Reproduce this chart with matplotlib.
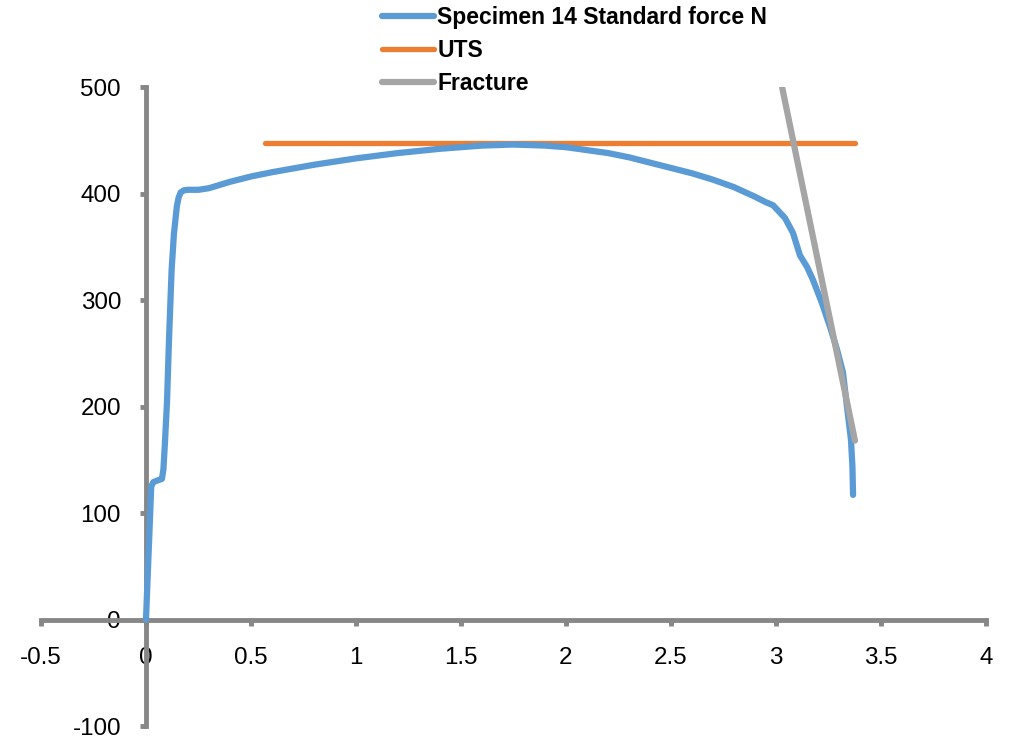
from matplotlib import pyplot as plt
import numpy as np

# blue curve: elongation vs force
strain = [0.0, 0.025, 0.035, 0.06, 0.076, 0.083, 0.09, 0.10, 0.11, 0.122,
          0.133, 0.14, 0.147, 0.155, 0.165, 0.18, 0.2, 0.25, 0.3, 0.4,
          0.5, 0.6, 0.8, 1.0, 1.2, 1.4, 1.6, 1.75, 1.9, 2.0,
          2.2, 2.3, 2.4, 2.5, 2.6, 2.7, 2.8, 2.9, 2.95, 2.986,
          3.043, 3.081, 3.114, 3.148, 3.176, 3.219, 3.257, 3.29, 3.319, 3.338,
          3.357, 3.364, 3.367]
force = [0, 125, 129, 131, 132, 141, 165, 204, 265, 328,
         362, 375, 388, 396, 401, 403, 403.5, 403.5, 405, 411,
         416, 420, 427, 433, 438, 442, 445, 446, 445, 443.5,
         438, 434, 429, 424, 419, 413, 406, 397, 392, 389,
         377, 363, 342, 331, 319, 297, 275, 254, 232, 200,
         169, 144, 117]

uts_x = [0.567, 3.376]
uts_y = [447, 447]

fracture_x = [3.029, 3.376]
fracture_y = [500, 168]

xticks = [-0.5, 0, 0.5, 1, 1.5, 2, 2.5, 3, 3.5, 4]
xticklabels = ["-0.5", "0", "0.5", "1", "1.5", "2", "2.5", "3", "3.5", "4"]
yticks = [-100, 0, 100, 200, 300, 400, 500]

plt.rcParams['font.family'] = ['Liberation Sans', 'DejaVu Sans']
plt.rcParams['axes.unicode_minus'] = False

fig = plt.figure(figsize=(10.17, 7.4), dpi=100)
ax = fig.add_axes([0.0403, 0.0189, 0.9292, 0.8635])

ax.plot(strain, force, color="#5B9BD5", lw=4.5, solid_capstyle="round",
        solid_joinstyle="round", label="Specimen 14 Standard force N", zorder=3)
ax.plot(uts_x, uts_y, color="#ED7D31", lw=3.8, solid_capstyle="round",
        label="UTS", zorder=2)
ax.plot(fracture_x, fracture_y, color="#A5A5A5", lw=4.5, solid_capstyle="round",
        label="Fracture", zorder=4)

ax.set_xlim(-0.5, 4)
ax.set_ylim(-100, 500)

axis_col = "#878787"
for s in ["top", "right"]:
    ax.spines[s].set_visible(False)
ax.spines["left"].set_position(("data", 0))
ax.spines["bottom"].set_position(("data", 0))
for s in ["left", "bottom"]:
    ax.spines[s].set_color(axis_col)
    ax.spines[s].set_linewidth(3.5)

ax.set_xticks(xticks)
ax.set_xticklabels(xticklabels)
ax.set_yticks(yticks)
ax.tick_params(axis="both", direction="out", length=4, width=3.5,
               color=axis_col, labelsize=17.4)
ax.tick_params(axis="x", pad=16)
ax.tick_params(axis="y", pad=14)
ax.patch.set_alpha(0)

fig.legend(loc="upper left", bbox_to_anchor=(0.367, 1.004), frameon=False,
           prop={"weight": "bold", "size": 16.5}, handlelength=2.27,
           handletextpad=0.12, labelspacing=0.44, borderaxespad=0)

fig.savefig("out.png", dpi=100)
